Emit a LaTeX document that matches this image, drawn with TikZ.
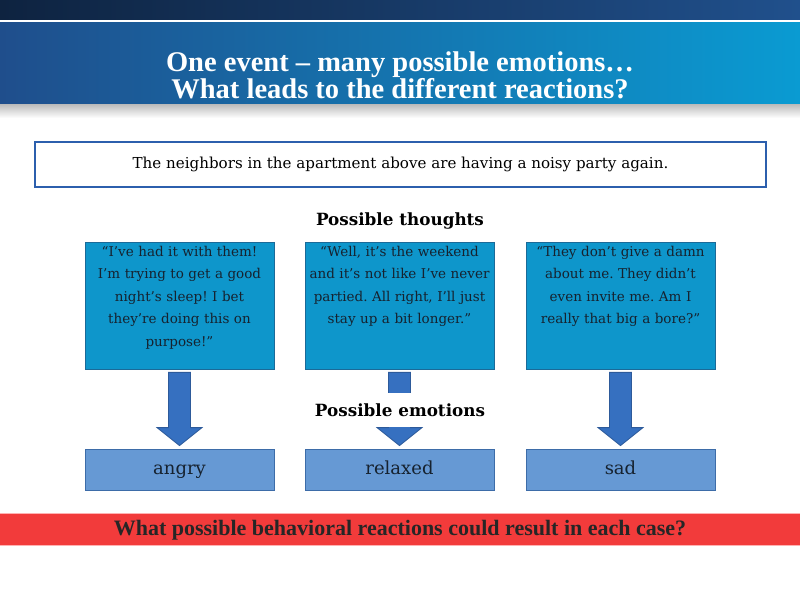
\documentclass[tikz,border=0pt]{standalone}
\usepackage{fontspec}
\setmainfont{Liberation Serif}
\newfontfamily\bodyfont{DejaVu Serif}
\usepackage{xcolor}
\usetikzlibrary{calc,positioning}
\definecolor{navyL}{HTML}{0E2340}
\definecolor{navyR}{HTML}{20508C}
\definecolor{bandL}{HTML}{1F4E8C}
\definecolor{bandR}{HTML}{0A9BD2}
\definecolor{eventblue}{HTML}{2C5FAD}
\definecolor{thoughtfill}{HTML}{0E96CB}
\definecolor{thoughtline}{HTML}{1B6A98}
\definecolor{thoughttext}{HTML}{16222F}
\definecolor{emofill}{HTML}{6699D4}
\definecolor{emoline}{HTML}{3D6CA8}
\definecolor{arrowfill}{HTML}{3670C0}
\definecolor{arrowline}{HTML}{2D5A9A}
\definecolor{redband}{HTML}{F23B3B}
\tikzset{
  thoughtbox/.style={draw=thoughtline,line width=0.8pt,fill=thoughtfill,minimum width=189pt,minimum height=127pt,inner sep=0pt},
  thoughttxt/.style={anchor=north,text width=186pt,align=center,text=thoughttext,font=\bodyfont\fontsize{13.5}{22.5}\selectfont,inner sep=0pt},
  emobox/.style={draw=emoline,line width=0.8pt,fill=emofill,minimum width=189pt,minimum height=41pt,inner sep=0pt,text height=13pt,text depth=4pt,font=\bodyfont\fontsize{18}{20}\selectfont,text=thoughttext},
  heading/.style={font=\bodyfont\fontsize{16.8}{18}\selectfont\bfseries,text=black},
  blockarrow/.style={draw=arrowline,line width=0.8pt,fill=arrowfill,line join=miter}
}
\frenchspacing
\begin{document}
\begin{tikzpicture}[x=1pt,y=1pt]
\useasboundingbox (0,0) rectangle (800,600);
% title bands
\shade[left color=navyL,right color=navyR] (0,580) rectangle (800,600);
\shade[left color=bandL,right color=bandR] (0,495) rectangle (800,577);
\shade[top color=black!25,bottom color=white] (0,482) rectangle (800,495);
\node[text=white,align=center,font=\fontsize{28.5}{25}\selectfont\bfseries] (title) at (400,525)
  {One event -- many possible emotions\dots\\What leads to the different reactions?};
% event
\node[draw=eventblue,line width=2.5pt,fill=white,minimum width=731pt,minimum height=45pt,
  font=\bodyfont\fontsize{15.1}{17}\selectfont] (event) at (400.5,435.5)
  {The neighbors in the apartment above are having a noisy party again.};
\node[heading] (thoughts) at (400,379) {Possible thoughts};
% thoughts
\node[thoughtbox] (t1) at (179.5,294.5) {};
\node[thoughtbox] (t2) at (399.5,294.5) {};
\node[thoughtbox] (t3) at (620.5,294.5) {};
\node[thoughttxt] (q1) at ($(t1.north)+(0,-4)$) {“I’ve had it with them!\\I’m trying to get a good\\night’s sleep! I bet\\they’re doing this on\\purpose!”};
\node[thoughttxt] (q2) at ($(t2.north)+(0,-4)$) {“Well, it’s the weekend\\and it’s not like I’ve never\\partied. All right, I’ll just\\stay up a bit longer.”};
\node[thoughttxt] (q3) at ($(t3.north)+(0,-4)$) {“They don’t give a damn\\about me. They didn’t\\even invite me. Am I\\really that big a bore?”};
% emotions
\node[emobox] (e1) at (179.5,130.5) {angry};
\node[emobox] (e2) at (399.5,130.5) {relaxed};
\node[emobox] (e3) at (620.5,130.5) {sad};
% arrows
\foreach \i in {1,2,3}{
  \draw[blockarrow] ($(t\i.south)+(-11,-3)$) -- ($(t\i.south)+(11,-3)$)
    -- ($(e\i.north)+(11,21)$) -- ($(e\i.north)+(22.5,21)$) -- ($(e\i.north)+(0,3)$)
    -- ($(e\i.north)+(-22.5,21)$) -- ($(e\i.north)+(-11,21)$) -- cycle;
}
\node[heading,fill=white,minimum height=34pt,inner sep=2pt] (emotions) at (400,190) {Possible emotions};
% question
\fill[redband] (0,55) rectangle (800,87);
\draw[red!30,line width=0.6pt] (0,87) -- (800,87) (0,55) -- (800,55);
\node[font=\fontsize{22}{23}\selectfont\bfseries,text=black!85] (question) at (400,69.5)
  {What possible behavioral reactions could result in each case?};
\end{tikzpicture}
\end{document}
